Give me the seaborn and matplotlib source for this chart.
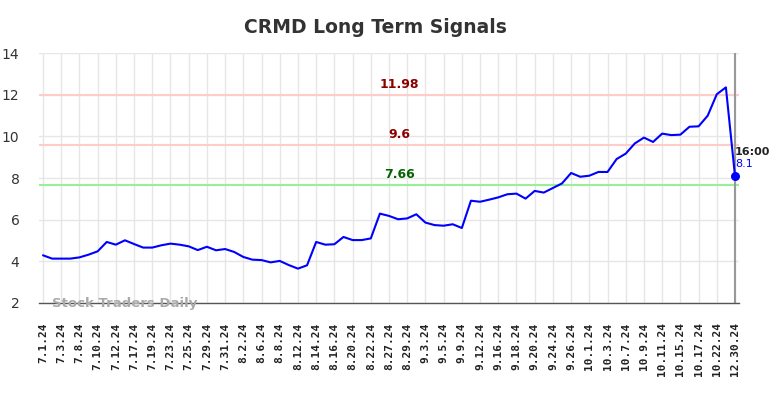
import numpy as np
import pandas as pd
import matplotlib
matplotlib.use('Agg')
import matplotlib.pyplot as plt
import seaborn as sns

# tick labels (every other trading day)
tick_labels = ['7.1.24', '7.3.24', '7.8.24', '7.10.24', '7.12.24', '7.17.24', '7.19.24',
               '7.23.24', '7.25.24', '7.29.24', '7.31.24', '8.2.24', '8.6.24', '8.8.24',
               '8.12.24', '8.14.24', '8.16.24', '8.20.24', '8.22.24', '8.27.24', '8.29.24',
               '9.3.24', '9.5.24', '9.9.24', '9.12.24', '9.16.24', '9.18.24', '9.20.24',
               '9.24.24', '9.26.24', '10.1.24', '10.3.24', '10.7.24', '10.9.24', '10.11.24',
               '10.15.24', '10.17.24', '10.22.24', '12.30.24']

# closing prices
prices = [4.29, 4.13, 4.13, 4.13, 4.19, 4.32, 4.48, 4.93, 4.80, 5.01,
          4.83, 4.66, 4.66, 4.77, 4.85, 4.80, 4.72, 4.54, 4.70, 4.53,
          4.59, 4.45, 4.21, 4.08, 4.06, 3.95, 4.02, 3.82, 3.65, 3.81,
          4.93, 4.80, 4.82, 5.17, 5.02, 5.02, 5.10, 6.29, 6.18, 6.02,
          6.06, 6.26, 5.86, 5.74, 5.71, 5.78, 5.60, 6.91, 6.86, 6.96,
          7.07, 7.22, 7.25, 7.01, 7.38, 7.30, 7.52, 7.74, 8.24, 8.06,
          8.11, 8.29, 8.29, 8.91, 9.17, 9.66, 9.94, 9.73, 10.13, 10.06,
          10.08, 10.46, 10.48, 10.99, 12.02, 12.35, 8.10]

signal_levels = [11.98, 9.6, 7.66]
signal_line_colors = ['#ffcccc', '#ffcccc', '#99ee99']
signal_text_colors = ['#8b0000', '#8b0000', '#006400']

df = pd.DataFrame({'idx': np.arange(len(prices)), 'price': prices})

sns.set_style('white')
plt.rcParams['font.family'] = ['DejaVu Sans']

fig = plt.figure(figsize=(7.84, 3.98), dpi=100)
ax = fig.add_axes([39 / 784, 1 - 303 / 398, 700 / 784, 250 / 398])

last = len(prices) - 1
ax.set_xlim(-0.44, last + 0.44)
ax.set_ylim(2, 14)

# grid
ax.set_xticks(np.arange(0, len(prices), 2))
ax.set_yticks(np.arange(2, 15, 2))
ax.grid(True, color='#e6e6e6', linewidth=1)
ax.set_axisbelow(True)

for lvl, lc, tc in zip(signal_levels, signal_line_colors, signal_text_colors):
    ax.axhline(lvl, color=lc, linewidth=1.5, zorder=1)
    ax.text(39.1, lvl + 0.2, str(lvl), color=tc, fontsize=9, fontweight='bold',
            ha='center', va='bottom')

ax.axvline(last, color='#999999', linewidth=1.5, zorder=1)

sns.lineplot(data=df, x='idx', y='price', color='blue', linewidth=1.5, ax=ax, zorder=3)
ax.scatter([last], [prices[-1]], color='blue', s=30, zorder=4)

ax.text(last, prices[-1] + 1.15, '16:00', fontsize=8, fontweight='bold', color='#222222',
        ha='left', va='center')
ax.text(last, prices[-1] + 0.55, str(prices[-1]), fontsize=8, color='blue',
        ha='left', va='center')

ax.text(1.0, 2.0, 'Stock Traders Daily', fontsize=9.5, fontweight='bold', color='#aaaaaa',
        ha='left', va='center', zorder=5)

ax.set_xticklabels(tick_labels, rotation=90, fontsize=8, fontweight='bold', color='#222222',
                   family='DejaVu Sans Mono')
ax.tick_params(axis='y', labelsize=10, labelcolor='#333333', length=0, pad=14)
ax.tick_params(axis='x', length=0, pad=14)
ax.set_xlabel('')
ax.set_ylabel('')

for s in ['top', 'right', 'left']:
    ax.spines[s].set_visible(False)
ax.spines['bottom'].set_color('#555555')
ax.spines['bottom'].set_linewidth(1)

fig.suptitle('CRMD Long Term Signals', fontsize=13.5, fontweight='bold', color='#333333',
             x=375 / 784, y=0.955)

fig.savefig('out.png', dpi=100)
